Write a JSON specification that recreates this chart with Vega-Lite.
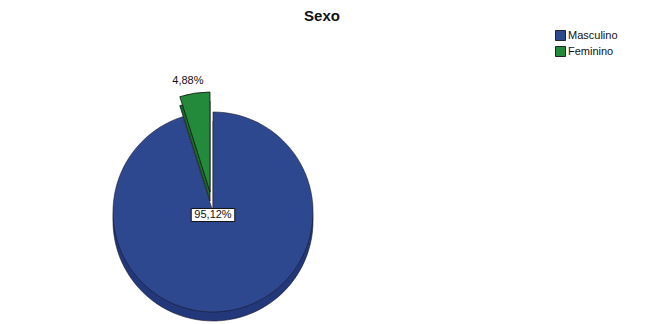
{
  "$schema": "https://vega.github.io/schema/vega-lite/v6.json",
  "autosize": "none",
  "width": 426,
  "height": 224,
  "padding": {"left": 0, "top": 100, "right": 219, "bottom": 0},
  "background": "white",
  "title": {"text": "Sexo", "anchor": "middle", "frame": "group", "dx": 109, "offset": 6, "font": "Liberation Sans", "fontSize": 15, "fontWeight": "bold", "color": "#111"},
  "data": {"values": [
    {"Sexo": "Masculino", "pct": 95.12, "label": "95,12%"},
    {"Sexo": "Feminino", "pct": 4.88, "label": "4,88%"}
  ]},
  "encoding": {
    "theta": {"field": "pct", "type": "quantitative", "stack": true},
    "order": {"field": "Sexo", "sort": "descending"}
  },
  "layer": [
    {
      "mark": {"type": "arc", "outerRadius": 100, "yOffset": 9, "stroke": "#1a1a2a", "strokeWidth": 0.6, "fill": "#22387a"},
      "encoding": {"opacity": {"condition": {"test": "datum.Sexo === 'Feminino'", "value": 0}, "value": 1}}
    },
    {
      "mark": {"type": "arc", "outerRadius": 100, "stroke": "#1a1a2a", "strokeWidth": 0.6},
      "encoding": {
        "color": {"field": "Sexo", "type": "nominal", "scale": {"domain": ["Masculino", "Feminino"], "range": ["#2e4890", "#238a3b"]}, "legend": {"title": null}},
        "opacity": {"condition": {"test": "datum.Sexo === 'Feminino'", "value": 0}, "value": 1}
      }
    },
    {
      "mark": {"type": "arc", "outerRadius": 100, "xOffset": -3, "yOffset": -11, "stroke": "#111", "strokeWidth": 0.8, "fill": "#186b2c"},
      "encoding": {"opacity": {"condition": {"test": "datum.Sexo === 'Masculino'", "value": 0}, "value": 1}}
    },
    {
      "mark": {"type": "arc", "outerRadius": 100, "xOffset": -3, "yOffset": -20, "stroke": "#111", "strokeWidth": 0.8},
      "encoding": {
        "color": {"field": "Sexo", "type": "nominal"},
        "opacity": {"condition": {"test": "datum.Sexo === 'Masculino'", "value": 0}, "value": 1}
      }
    },
    {
      "mark": {"type": "point", "shape": "M-1,-0.3L1,-0.3L1,0.3L-1,0.3Z", "size": 1900, "filled": true, "fill": "white", "stroke": "#111", "strokeWidth": 1, "opacity": 1, "yOffset": 3},
      "encoding": {"opacity": {"condition": {"test": "datum.Sexo === 'Feminino'", "value": 0}, "value": 1}}
    },
    {
      "mark": {"type": "text", "radius": 0, "font": "Liberation Sans", "fontSize": 11, "color": "#111", "yOffset": 3},
      "encoding": {"text": {"condition": {"test": "datum.Sexo === 'Masculino'", "field": "label"}, "value": ""}}
    },
    {
      "mark": {"type": "text", "radius": 112, "xOffset": -8, "yOffset": -20, "font": "Liberation Sans", "fontSize": 11, "baseline": "middle", "color": "#111"},
      "encoding": {"text": {"condition": {"test": "datum.Sexo === 'Feminino'", "field": "label"}, "value": ""}}
    }
  ],
  "config": {
    "view": {"stroke": null},
    "legend": {"orient": "none", "legendX": 555, "legendY": -70, "symbolType": "square", "symbolSize": 100, "symbolStrokeColor": "#222", "symbolStrokeWidth": 1, "symbolOpacity": 1, "labelFont": "Liberation Sans", "labelFontSize": 11, "labelColor": "#111", "rowPadding": 1, "labelOffset": 2}
  }
}
